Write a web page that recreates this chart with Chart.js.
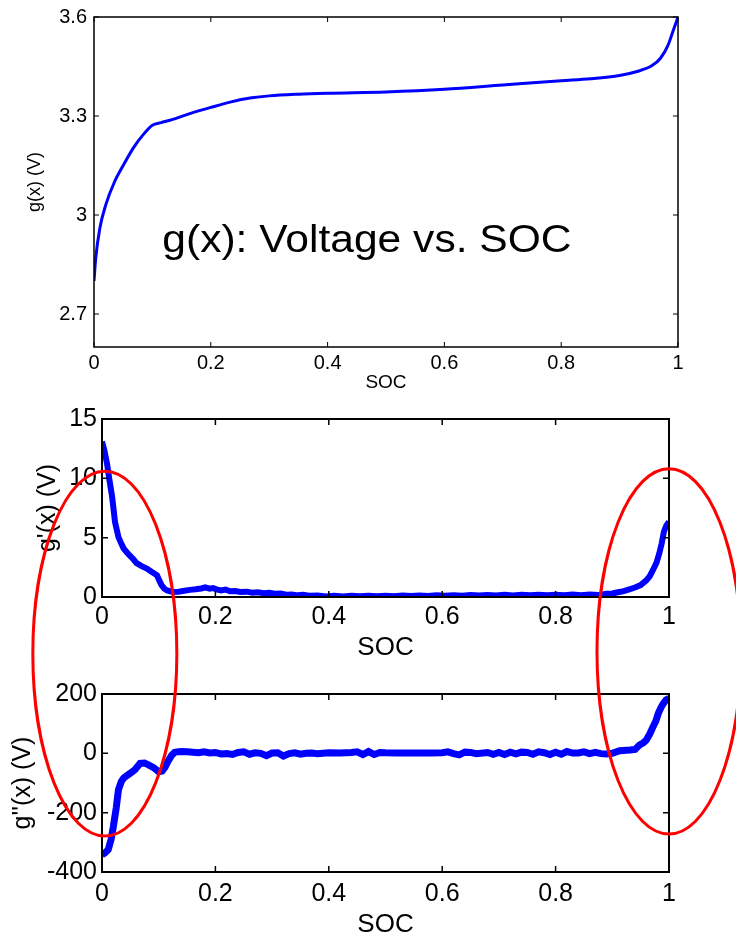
<!DOCTYPE html>
<html>
<head>
<meta charset="utf-8">
<script src="https://cdn.jsdelivr.net/npm/chart.js@4.4.1/dist/chart.umd.min.js"></script>
<style>
html, body { margin: 0; padding: 0; background: #fff; }
#page { position: relative; width: 736px; height: 939px; overflow: hidden; }
.box { position: absolute; left: 0; width: 736px; }
#overlay { position: absolute; left: 0; top: 0; pointer-events: none; }
</style>
</head>
<body>
<div id="page">
  <div class="box" style="top:0;height:400px"><canvas id="gChart"></canvas></div>
  <div class="box" style="top:400px;height:270px"><canvas id="g1Chart"></canvas></div>
  <div class="box" style="top:670px;height:269px"><canvas id="g2Chart"></canvas></div>
  <canvas id="overlay" width="736" height="939"></canvas>
</div>
<script>
// g(x): voltage vs SOC
const socG = [0, 0.003, 0.01, 0.02, 0.035, 0.05, 0.068, 0.085, 0.1, 0.115,
  0.13, 0.164, 0.2, 0.233, 0.27, 0.3, 0.35, 0.4, 0.5, 0.6,
  0.7, 0.8, 0.85, 0.9, 0.93, 0.955, 0.97, 0.983, 0.992, 1]
const gVolt = [2.80, 2.87, 2.96, 3.03, 3.10, 3.15, 3.205, 3.245, 3.272, 3.28,
  3.287, 3.307, 3.326, 3.342, 3.355, 3.361, 3.366, 3.369, 3.373, 3.381,
  3.394, 3.407, 3.413, 3.423, 3.435, 3.452, 3.475, 3.515, 3.56, 3.6]

// g'(x)
const socD1 = [0, 0.004, 0.009, 0.013, 0.018, 0.023, 0.029, 0.034, 0.038, 0.044,
  0.05, 0.055, 0.061, 0.07, 0.079, 0.088, 0.097, 0.101, 0.105, 0.11,
  0.115, 0.125, 0.135, 0.145, 0.155, 0.165, 0.175, 0.182, 0.19, 0.196,
  0.202, 0.21, 0.218, 0.226, 0.235, 0.244, 0.255, 0.265, 0.275, 0.285,
  0.295, 0.305, 0.315, 0.325, 0.335, 0.345, 0.355, 0.365, 0.38, 0.395,
  0.41, 0.425, 0.44, 0.455, 0.47, 0.485, 0.5, 0.515, 0.53, 0.545,
  0.56, 0.575, 0.59, 0.605, 0.62, 0.635, 0.65, 0.665, 0.68, 0.695,
  0.71, 0.725, 0.74, 0.755, 0.77, 0.785, 0.8, 0.815, 0.83, 0.845,
  0.86, 0.875, 0.89, 0.9, 0.91, 0.92, 0.93, 0.94, 0.95, 0.96,
  0.966, 0.972, 0.978, 0.983, 0.987, 0.991, 0.995, 1]
const gPrime = [13.1, 12.4, 11.2, 9.9, 8.4, 6.3, 5.05, 4.5, 4.1, 3.75,
  3.45, 3.2, 2.85, 2.6, 2.4, 2.1, 1.83, 1.4, 1.0, 0.7,
  0.55, 0.42, 0.45, 0.52, 0.6, 0.65, 0.72, 0.82, 0.7, 0.75,
  0.65, 0.55, 0.62, 0.48, 0.5, 0.42, 0.45, 0.36, 0.4, 0.32,
  0.36, 0.28, 0.3, 0.2, 0.22, 0.14, 0.18, 0.1, 0.12, 0.05,
  0.1, 0.05, 0.1, 0.06, 0.11, 0.06, 0.1, 0.07, 0.12, 0.08,
  0.13, 0.09, 0.14, 0.1, 0.15, 0.11, 0.16, 0.12, 0.17, 0.13,
  0.18, 0.13, 0.18, 0.14, 0.19, 0.14, 0.19, 0.15, 0.2, 0.15,
  0.2, 0.16, 0.28, 0.3, 0.4, 0.5, 0.65, 0.8, 1.0, 1.4,
  1.75, 2.3, 2.9, 3.7, 4.5, 5.5, 6.0, 6.35]

// g''(x)
const socD2 = [0, 0.005, 0.011, 0.016, 0.02, 0.025, 0.029, 0.034, 0.038, 0.044,
  0.05, 0.058, 0.067, 0.075, 0.082, 0.091, 0.1, 0.106, 0.111, 0.117,
  0.123, 0.128, 0.132, 0.14, 0.15, 0.16, 0.17, 0.18, 0.19, 0.2,
  0.21, 0.22, 0.23, 0.24, 0.25, 0.26, 0.27, 0.28, 0.29, 0.3,
  0.31, 0.32, 0.33, 0.34, 0.35, 0.36, 0.37, 0.38, 0.4, 0.42,
  0.44, 0.45, 0.46, 0.47, 0.48, 0.49, 0.5, 0.52, 0.54, 0.56,
  0.58, 0.6, 0.61, 0.62, 0.63, 0.64, 0.65, 0.66, 0.68, 0.69,
  0.7, 0.71, 0.72, 0.73, 0.74, 0.75, 0.76, 0.77, 0.78, 0.79,
  0.8, 0.81, 0.82, 0.83, 0.84, 0.85, 0.86, 0.87, 0.88, 0.89,
  0.9, 0.913, 0.931, 0.94, 0.948, 0.955, 0.96, 0.966, 0.972, 0.977,
  0.981, 0.986, 0.99, 0.995, 1]
const gDouble = [-342, -336, -325, -290, -247, -185, -123, -95, -84, -75,
  -67, -55, -34, -33, -39, -48, -62, -60, -47, -25,
  -6, 3, 5, 6, 5, 4, 2, 5, 1, 3,
  -2, -1, -4, 3, 5, -3, 2, 0, -8, 1,
  2, -9, -1, 2, -3, 0, 1, -1, 2, 1,
  3, 5, -4, 6, -4, 3, 2, 1, 1, 1,
  1, 2, 5, -1, -5, 4, 3, -1, 3, -3,
  3, -4, 4, -2, 4, 3, -3, 5, 2, -4,
  4, -3, 6, 1, 1, 5, -1, 3, -1, -2,
  0, 9, 11, 13, 28, 36, 45, 65, 90, 110,
  134, 155, 168, 180, 186]

// tick values
const socTicks = [0, 0.2, 0.4, 0.6, 0.8, 1]
const gTicks = [2.7, 3, 3.3, 3.6]
const g1Ticks = [0, 5, 10, 15]
const g2Ticks = [-400, -200, 0, 200]

// red ellipses (SOC centre, top on g'(x) axis, bottom on g''(x) axis)
const ellipseCentres = [0.005, 1.0]
const ellipseTops = [10.6, 10.8]
const ellipseBottoms = [-279, -272]
const ellipseHalfWidth = 0.127

const FONT = "'Liberation Sans', Arial, sans-serif"

const boxPlugin = {
  id: 'matBox',
  afterDraw(chart, args, opts) {
    const ctx = chart.ctx
    const a = chart.chartArea
    const sx = chart.scales.x, sy = chart.scales.y
    ctx.save()
    ctx.strokeStyle = '#000'
    ctx.lineWidth = opts.width
    ctx.strokeRect(a.left, a.top, a.right - a.left, a.bottom - a.top)
    ctx.lineWidth = opts.tickWidth
    ctx.beginPath()
    sx.ticks.forEach(t => {
      const p = sx.getPixelForValue(t.value)
      ctx.moveTo(p, a.bottom); ctx.lineTo(p, a.bottom - opts.tick)
      ctx.moveTo(p, a.top); ctx.lineTo(p, a.top + opts.tick)
    })
    sy.ticks.forEach(t => {
      const p = sy.getPixelForValue(t.value)
      ctx.moveTo(a.left, p); ctx.lineTo(a.left + opts.tick, p)
      ctx.moveTo(a.right, p); ctx.lineTo(a.right - opts.tick, p)
    })
    ctx.stroke()
    ctx.restore()
  }
}

const labelPlugin = {
  id: 'bigLabel',
  afterDraw(chart, args, opts) {
    if (!opts.text) return
    const ctx = chart.ctx
    const x = chart.scales.x.getPixelForValue(opts.x)
    const y = chart.scales.y.getPixelForValue(opts.y)
    ctx.save()
    ctx.fillStyle = '#000'
    ctx.font = opts.size + 'px ' + FONT
    ctx.textAlign = 'left'
    ctx.textBaseline = 'alphabetic'
    ctx.translate(x, y)
    ctx.scale(opts.stretch, 1)
    ctx.fillText(opts.text, 0, 0)
    ctx.restore()
  }
}

function makeChart(id, xs, ys, c) {
  return new Chart(document.getElementById(id), {
    type: 'line',
    data: {
      datasets: [{
        data: xs.map((x, i) => ({x: x, y: ys[i]})),
        borderColor: '#0000ff',
        borderWidth: c.lineWidth,
        pointRadius: 0,
        tension: c.tension,
        cubicInterpolationMode: c.cubic ? 'monotone' : 'default',
        fill: false
      }]
    },
    options: {
      responsive: true,
      maintainAspectRatio: false,
      animation: false,
      events: [],
      layout: { padding: { top: c.padTop, right: c.padRight, left: 0, bottom: 0 } },
      plugins: {
        legend: { display: false },
        tooltip: { enabled: false },
        matBox: { width: c.boxWidth, tick: c.tickLen, tickWidth: c.tickWidth },
        bigLabel: c.label || {}
      },
      scales: {
        x: {
          type: 'linear', min: 0, max: 1,
          afterBuildTicks: s => { s.ticks = socTicks.map(v => ({ value: v })) },
          afterFit: s => { s.height = c.xHeight },
          grid: { display: false, drawTicks: false },
          border: { display: false },
          ticks: { color: '#000', padding: c.xTickPad, maxRotation: 0, autoSkip: false,
            font: { family: FONT, size: c.tickSize, lineHeight: 1 },
            callback: v => String(v) },
          title: { display: true, text: 'SOC', color: '#000',
            font: { family: FONT, size: c.xTitleSize, lineHeight: 1 },
            padding: { top: 0, bottom: c.xTitlePad } }
        },
        y: {
          type: 'linear', min: c.yMin, max: c.yMax,
          afterBuildTicks: s => { s.ticks = c.yTicks.map(v => ({ value: v })) },
          afterFit: s => { s.width = c.yWidth },
          grid: { display: false, drawTicks: false },
          border: { display: false },
          ticks: { color: '#000', padding: c.yTickPad, autoSkip: false,
            font: { family: FONT, size: c.tickSize, lineHeight: 1 },
            callback: v => String(v) },
          title: { display: true, text: c.yTitle, color: '#000',
            font: { family: FONT, size: c.yTitleSize, lineHeight: 1 },
            padding: { top: c.yTitlePad, bottom: 0 } }
        }
      }
    },
    plugins: [boxPlugin, labelPlugin]
  })
}

const chartG = makeChart('gChart', socG, gVolt, {
  lineWidth: 3, tension: 0.4, cubic: true,
  padTop: 15, padRight: 58, xHeight: 53, yWidth: 94,
  yMin: 2.6, yMax: 3.6, yTicks: gTicks,
  tickSize: 20, xTickPad: 6, yTickPad: 7,
  xTitleSize: 19, xTitlePad: 8, yTitle: 'g(x) (V)', yTitleSize: 18, yTitlePad: 26,
  boxWidth: 1.5, tickLen: 5, tickWidth: 1,
  label: { text: 'g(x): Voltage vs. SOC', x: 0.117, y: 2.888, size: 38, stretch: 1.12 }
})

const chartG1 = makeChart('g1Chart', socD1, gPrime, {
  lineWidth: 6, tension: 0, cubic: false,
  padTop: 19, padRight: 67, xHeight: 73, yWidth: 102,
  yMin: 0, yMax: 15, yTicks: g1Ticks,
  tickSize: 25, xTickPad: 8, yTickPad: 5,
  xTitleSize: 26, xTitlePad: 9, yTitle: "g'(x) (V)", yTitleSize: 25, yTitlePad: 36,
  boxWidth: 2, tickLen: 6, tickWidth: 1.5
})

const chartG2 = makeChart('g2Chart', socD2, gDouble, {
  lineWidth: 7, tension: 0, cubic: false,
  padTop: 24, padRight: 67, xHeight: 67, yWidth: 102,
  yMin: -400, yMax: 200, yTicks: g2Ticks,
  tickSize: 25, xTickPad: 10, yTickPad: 5,
  xTitleSize: 26, xTitlePad: 1, yTitle: "g''(x) (V)", yTitleSize: 25, yTitlePad: 11,
  boxWidth: 2, tickLen: 6, tickWidth: 1.5
})

function drawEllipses() {
  const ctx = document.getElementById('overlay').getContext('2d')
  const offMid = chartG1.canvas.parentNode.offsetTop
  const offLow = chartG2.canvas.parentNode.offsetTop
  ctx.strokeStyle = '#ff0000'
  ctx.lineWidth = 3
  ellipseCentres.forEach((c, i) => {
    const cx = chartG1.scales.x.getPixelForValue(c)
    const rx = chartG1.scales.x.getPixelForValue(c + ellipseHalfWidth) - cx
    const y1 = offMid + chartG1.scales.y.getPixelForValue(ellipseTops[i])
    const y2 = offLow + chartG2.scales.y.getPixelForValue(ellipseBottoms[i])
    ctx.beginPath()
    ctx.ellipse(cx, (y1 + y2) / 2, rx, (y2 - y1) / 2, 0, 0, 2 * Math.PI)
    ctx.stroke()
  })
}
drawEllipses()
</script>
</body>
</html>
